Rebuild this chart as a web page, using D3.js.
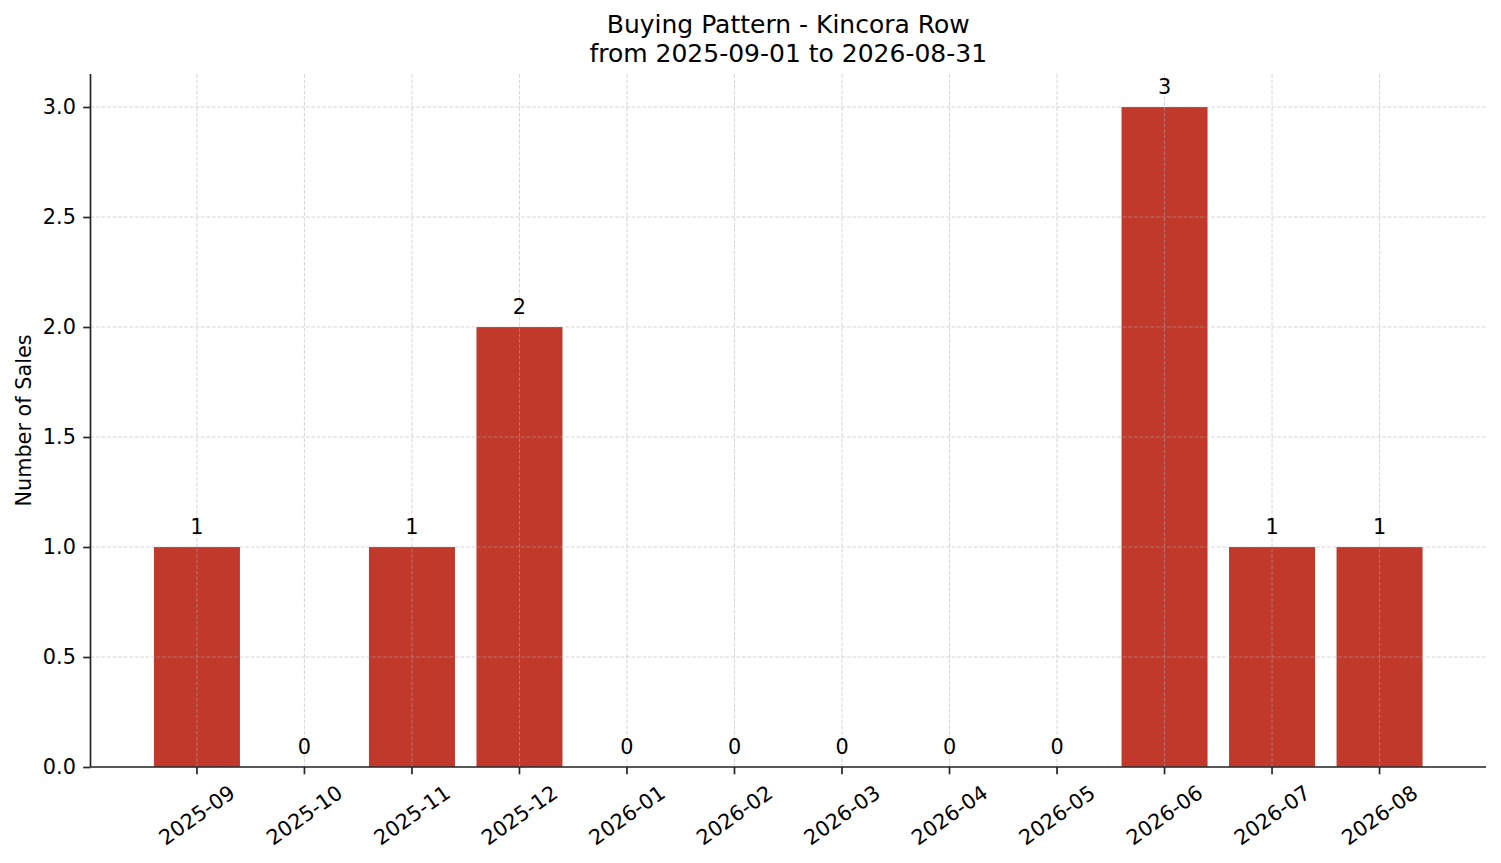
<!DOCTYPE html>
<html>
<head>
<meta charset="utf-8" />
<title>Buying Pattern - Kincora Row</title>
<style>
body {
  margin: 0;
  background: white;
}

svg text {
  font-family: "DejaVu Sans", sans-serif;
  fill: black;
}
</style>
<script src="https://d3js.org/d3.v7.min.js" charset="utf-8"></script>
</head>

<body>
<svg class="chart"></svg>

<script>

/*******************************
 * Chart data
 *******************************/
var months = ["2025-09", "2025-10", "2025-11", "2025-12", "2026-01", "2026-02",
              "2026-03", "2026-04", "2026-05", "2026-06", "2026-07", "2026-08"];
var sales = [1, 0, 1, 2, 0, 0, 0, 0, 0, 3, 1, 1];
var y_ticks = [0, 0.5, 1.0, 1.5, 2.0, 2.5, 3.0];
var title_lines = ["Buying Pattern - Kincora Row", "from 2025-09-01 to 2026-08-31"];
var y_label = "Number of Sales";

/*******************************
 * Layout
 *******************************/
var width = 1501;
var height = 863;
var left = 90.5;
var right = 1486;
var top_y = 74;
var bottom_y = 767;
var bar_color = "#c0392b";
var spine_color = "#262626";
var font_px = 20.8;

var data = months.map(function(m, i) { return { month: m, value: sales[i] }; });

var canvas = d3.select(".chart")
    .attr("width", width)
    .attr("height", height);

canvas.append("rect")
    .attr("width", width)
    .attr("height", height)
    .attr("fill", "white");

// x: one band per month, bar fills 80% of the step
var x_position = d3.scaleBand()
    .domain(months)
    .range([left, right])
    .paddingInner(0.2)
    .paddingOuter(0.59);

// y: matplotlib style auto limit (max 3 plus 5% margin)
var y_position = d3.scaleLinear()
    .domain([0, 3.15])
    .range([bottom_y, top_y]);

function center_x(m) { return x_position(m) + x_position.bandwidth() / 2; }

// bars
canvas.append("g")
    .selectAll("rect")
    .data(data)
    .enter()
    .append("rect")
    .attr("x", function(d) { return x_position(d.month); })
    .attr("y", function(d) { return y_position(d.value); })
    .attr("width", x_position.bandwidth())
    .attr("height", function(d) { return y_position(0) - y_position(d.value); })
    .attr("fill", bar_color);

// grid sits on top of the bars (like matplotlib's default zorder)
var grid = canvas.append("g")
    .attr("stroke", "#b0b0b0")
    .attr("stroke-opacity", 0.5)
    .attr("stroke-width", 1)
    .attr("stroke-dasharray", "3.85,1.67");

grid.selectAll(".hgrid")
    .data(y_ticks)
    .enter()
    .append("line")
    .attr("x1", left)
    .attr("x2", right)
    .attr("y1", function(d) { return y_position(d); })
    .attr("y2", function(d) { return y_position(d); });

grid.selectAll(".vgrid")
    .data(months)
    .enter()
    .append("line")
    .attr("x1", center_x)
    .attr("x2", center_x)
    .attr("y1", top_y)
    .attr("y2", bottom_y);

// value labels above each bar
canvas.append("g")
    .selectAll("text")
    .data(data)
    .enter()
    .append("text")
    .attr("x", function(d) { return center_x(d.month); })
    .attr("y", function(d) { return y_position(d.value) - 13; })
    .attr("text-anchor", "middle")
    .style("font-size", font_px + "px")
    .text(function(d) { return d.value; });

// y axis
var y_axis = d3.axisLeft(y_position)
    .tickValues(y_ticks)
    .tickFormat(d3.format(".1f"))
    .tickSize(7.3)
    .tickPadding(7.3);

var y_axis_group = canvas.append("g")
    .attr("transform", "translate(" + left + ",0)")
    .call(y_axis);

// x axis
var x_axis = d3.axisBottom(x_position)
    .tickSize(7.3)
    .tickFormat("");

var x_axis_group = canvas.append("g")
    .attr("transform", "translate(0," + bottom_y + ")")
    .call(x_axis);

[y_axis_group, x_axis_group].forEach(function(g) {
  g.select(".domain")
      .attr("stroke", spine_color)
      .attr("stroke-width", 1.7);
  g.selectAll(".tick line")
      .attr("stroke", spine_color)
      .attr("stroke-width", 1.7);
});

// no outer tick stubs on the spines
y_axis_group.select(".domain")
    .attr("d", "M0," + top_y + "V" + bottom_y);
x_axis_group.select(".domain")
    .attr("d", "M" + left + ",0H" + right);

y_axis_group.selectAll(".tick text")
    .attr("font-family", null)
    .style("font-size", font_px + "px")
    .attr("fill", "black");

// rotated month labels, centered under each tick
x_axis_group.selectAll(".tick text").remove();
canvas.append("g")
    .selectAll("text")
    .data(months)
    .enter()
    .append("text")
    .attr("transform", function(d) {
      return "translate(" + center_x(d) + "," + (bottom_y + 48) + ") rotate(-35)";
    })
    .attr("text-anchor", "middle")
    .attr("dy", "0.35em")
    .style("font-size", font_px + "px")
    .text(function(d) { return d; });

// y axis label
canvas.append("text")
    .attr("transform", "translate(31," + ((top_y + bottom_y) / 2) + ") rotate(-90)")
    .attr("text-anchor", "middle")
    .style("font-size", font_px + "px")
    .text(y_label);

// title, two lines
canvas.append("g")
    .selectAll("text")
    .data(title_lines)
    .enter()
    .append("text")
    .attr("x", (left + right) / 2)
    .attr("y", function(d, i) { return 33 + i * 29; })
    .attr("text-anchor", "middle")
    .style("font-size", "25px")
    .text(function(d) { return d; });

</script>
</body>
</html>
